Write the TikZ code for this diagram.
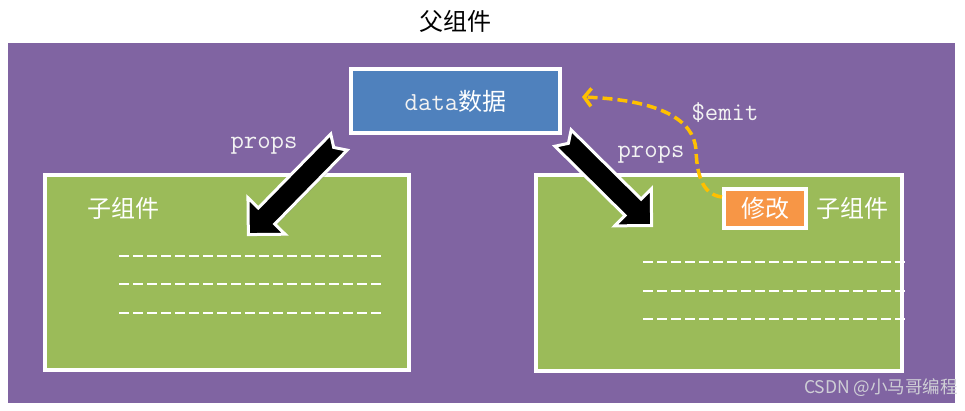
\documentclass[tikz,border=0pt]{standalone}
\usepackage{fontspec}
\newfontfamily\cjk{Noto Sans CJK SC}
\usetikzlibrary{arrows.meta,shadows,calc}
\definecolor{bgpurple}{HTML}{8064A2}
\definecolor{kidgreen}{HTML}{9BBB59}
\definecolor{datablue}{HTML}{4F81BD}
\definecolor{modorange}{HTML}{F79646}
\definecolor{emityellow}{HTML}{FFC000}
\definecolor{lighttext}{HTML}{F2F2F2}
\definecolor{wmgray}{HTML}{CFCFD6}
\newcommand\fatarrow[3]{%
  \begin{scope}[shift={#1}, rotate=#2]
    \filldraw[fatarrowstyle] (1.5,11.5) -- ({#3-28},11.5) -- ({#3-28},26) -- ({#3-2},0)
      -- ({#3-28},-26) -- ({#3-28},-11.5) -- (1.5,-11.5) -- (9,0) -- cycle;
  \end{scope}}
\begin{document}
\begin{tikzpicture}[x=1pt,y=1pt,
  boxshadow/.style={drop shadow={opacity=0.35,shadow xshift=1.5pt,shadow yshift=-1.5pt}},
  childbox/.style={fill=kidgreen, draw=white, line width=4pt, inner sep=0pt, boxshadow},
  databox/.style={fill=datablue, draw=white, line width=4pt, inner sep=0pt, boxshadow},
  modbox/.style={fill=modorange, draw=white, line width=4pt, inner sep=0pt, boxshadow},
  cjklabel/.style={font=\cjk\fontsize{24}{24}\selectfont, text=white, inner sep=0pt},
  monolabel/.style={font=\ttfamily\fontsize{26}{26}\selectfont, text=lighttext, inner sep=0pt},
  whitedash/.style={draw=white, line width=1.5pt, dash pattern=on 10pt off 4pt},
  fatarrowstyle/.style={fill=black, draw=white, line width=3pt, line join=miter,
    drop shadow={opacity=0.35,shadow xshift=1.5pt,shadow yshift=-1.5pt}},
  emitline/.style={draw=emityellow, line width=3.5pt, dash pattern=on 10pt off 5pt,
    -{Straight Barb[length=7pt,width=18pt]}}
]
\useasboundingbox (0,0) rectangle (965,-411);
\fill[white] (0,0) rectangle (965,-411);
% parent area
\node[fill=bgpurple, minimum width=947pt, minimum height=360pt, inner sep=0pt,
  anchor=north west] (parent) at (8,-43) {};
\node[font=\cjk\fontsize{24}{24}\selectfont, text=black, inner sep=0pt] (title) at (455,-21) {父组件};
% child boxes
\node[childbox, minimum width=364pt, minimum height=195pt] (left) at (227,-272.5) {};
\node[childbox, minimum width=366pt, minimum height=196pt] (right) at (719,-273) {};
% data box
\node[databox, minimum width=209pt, minimum height=64pt] (data) at (455.5,-101)
  {{\ttfamily\fontsize{26}{26}\selectfont\color{lighttext}data}{\cjk\fontsize{24}{24}\selectfont\color{white}数据}};
% labels
\node[cjklabel] (leftlabel) at (123,-208) {子组件};
\node[cjklabel] (rightlabel) at (852,-208) {子组件};
\node[monolabel] (propsL) at (264,-146) {props};
\node[monolabel] (propsR) at (651,-155) {props};
\node[monolabel] (emit) at (725,-113) {\$emit};
% dashed lines
\foreach \yy in {256,284,313} \draw[whitedash] (119,-\yy) -- (384,-\yy);
\foreach \yy in {262,291,319} \draw[whitedash] (643,-\yy) -- (907,-\yy);
% fat arrows
\coordinate (ltail) at (340,-141);
\coordinate (rtail) at (562,-137);
\fatarrow{(ltail)}{225.6}{133}
\fatarrow{(rtail)}{-44.7}{128}
% modify box
\node[modbox, minimum width=82pt, minimum height=39pt, cjklabel] (mod) at (765,-208.5) {修改};
% emit arrow
\coordinate (emitend) at ($(data.east)+(20,4)$);
\draw[emitline] ([yshift=-10pt]mod.north west) .. controls (705,-195) and (697,-180) .. (696,-150)
  .. controls (694,-120) and (660,-100) .. (emitend);
% watermark
\node[anchor=east, font=\cjk\fontsize{17.5}{17.5}\selectfont, text=wmgray, inner sep=0pt] (wm) at (958,-388) {CSDN @小马哥编程};
\end{tikzpicture}
\end{document}
